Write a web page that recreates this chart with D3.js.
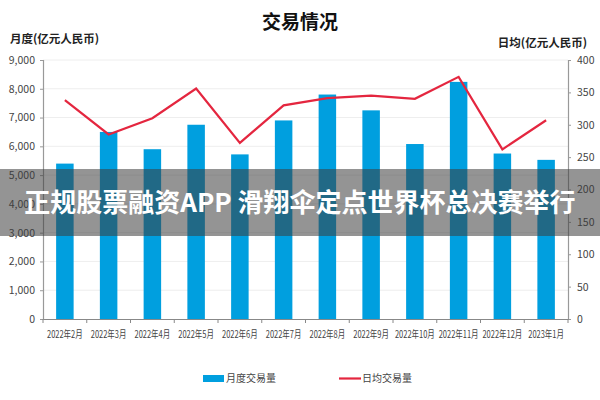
<!DOCTYPE html>
<html><head><meta charset="utf-8">
<script src="https://cdn.jsdelivr.net/npm/d3@7"></script>
<style>body{margin:0;background:#fff}svg{display:block}</style>
</head><body><svg id="c" width="600" height="400"></svg>
<script>
const months = ["2022年2月","2022年3月","2022年4月","2022年5月","2022年6月","2022年7月","2022年8月","2022年9月","2022年10月","2022年11月","2022年12月","2023年1月"];
const monthlyVolume = [5400,6500,5900,6750,5720,6900,7800,7250,6080,8240,5750,5530];
const dailyVolume = [338,285,310,356,272,330,341,345,340,374,262,307];
const leftTicks = [0,1000,2000,3000,4000,5000,6000,7000,8000,9000];
const rightTicks = [0,50,100,150,200,250,300,350,400];
const title = "交易情况";
const leftTitle = "月度(亿元人民币)";
const rightTitle = "日均(亿元人民币)";
const legendNames = ["月度交易量","日均交易量"];
const banner = "正规股票融资APP 滑翔伞定点世界杯总决赛举行";

const svg = d3.select("#c");
const font = "'Noto Sans CJK SC','Noto Sans',sans-serif";
const L = 43, R = 568, T = 60, B = 319;
const BLUE = "#009fdf", RED = "#e4263f";

const x = d3.scaleBand().domain(months).range([L, R]).paddingInner(0.6).paddingOuter(0.3);
const yL = d3.scaleLinear().domain([0, 9000]).range([B, T]);
const yR = d3.scaleLinear().domain([0, 400]).range([B, T]);

// grid
svg.append("g").selectAll("line").data(leftTicks.slice(1)).join("line")
  .attr("x1", L).attr("x2", R).attr("y1", d => yL(d)).attr("y2", d => yL(d))
  .attr("stroke", "#eeeeee").attr("stroke-width", 1);

// bars
svg.append("g").selectAll("rect").data(monthlyVolume).join("rect")
  .attr("x", (d, i) => x(months[i])).attr("width", x.bandwidth())
  .attr("y", d => yL(d)).attr("height", d => B - yL(d)).attr("fill", BLUE);

// line
const line = d3.line().x((d, i) => x(months[i]) + x.bandwidth() / 2).y(d => yR(d));
svg.append("path").datum(dailyVolume).attr("d", line)
  .attr("fill", "none").attr("stroke", RED).attr("stroke-width", 2.2).attr("stroke-linejoin", "miter");

// axes
const axL = svg.append("g").attr("transform", `translate(${L},0)`)
  .call(d3.axisLeft(yL).tickValues(leftTicks).tickFormat(d3.format(",")).tickSize(3).tickPadding(5));
const axR = svg.append("g").attr("transform", `translate(${R},0)`)
  .call(d3.axisRight(yR).tickValues(rightTicks).tickSize(3).tickPadding(6));
const xTicksScale = d3.scalePoint().domain(d3.range(13)).range([L, R]);
const axB = svg.append("g").attr("transform", `translate(0,${B})`)
  .call(d3.axisBottom(x).tickSize(0).tickPadding(12));
svg.append("g").selectAll("line").data(d3.range(13)).join("line")
  .attr("x1", d => xTicksScale(d)).attr("x2", d => xTicksScale(d))
  .attr("y1", B).attr("y2", B + 4).attr("stroke", "#888");
[axL, axR, axB].forEach(a => {
  a.selectAll(".domain").attr("stroke", "#999").attr("stroke-width", 1.2);
  a.selectAll(".tick line").attr("stroke", "#999");
  a.selectAll("text").attr("fill", "#444").style("font-family", font).style("font-size", "10.5px");
});
axB.selectAll("text").style("font-size", "10px").attr("transform", "scale(0.75,1)");
axB.selectAll(".domain").attr("stroke", "#888");

// titles
svg.append("text").attr("x", 300).attr("y", 29).attr("text-anchor", "middle")
  .style("font-family", font).style("font-weight", "bold").style("font-size", "19px").attr("fill", "#111").text(title);
svg.append("text").attr("x", 10).attr("y", 43)
  .style("font-family", font).style("font-weight", "bold").style("font-size", "11.5px").attr("fill", "#222").text(leftTitle);
svg.append("text").attr("x", 587).attr("y", 47).attr("text-anchor", "end")
  .style("font-family", font).style("font-weight", "bold").style("font-size", "11.5px").attr("fill", "#222").text(rightTitle);

// legend
const lg = svg.append("g").style("font-family", font).style("font-size", "10px");
lg.append("rect").attr("x", 203).attr("y", 375).attr("width", 21).attr("height", 7).attr("fill", BLUE);
lg.append("text").attr("x", 226).attr("y", 382).attr("fill", "#444").text(legendNames[0]);
lg.append("line").attr("x1", 339).attr("x2", 361).attr("y1", 378.5).attr("y2", 378.5).attr("stroke", RED).attr("stroke-width", 2.2);
lg.append("text").attr("x", 362).attr("y", 382).attr("fill", "#444").text(legendNames[1]);

// overlay banner
svg.append("rect").attr("x", 0).attr("y", 169).attr("width", 600).attr("height", 67)
  .attr("fill", "rgb(60,60,60)").attr("fill-opacity", 0.55);
svg.append("text").attr("x", 300).attr("y", 212).attr("text-anchor", "middle")
  .style("font-family", font).style("font-weight", "bold").style("font-size", "26px")
  .attr("fill", "#fff").text(banner);
</script></body></html>
